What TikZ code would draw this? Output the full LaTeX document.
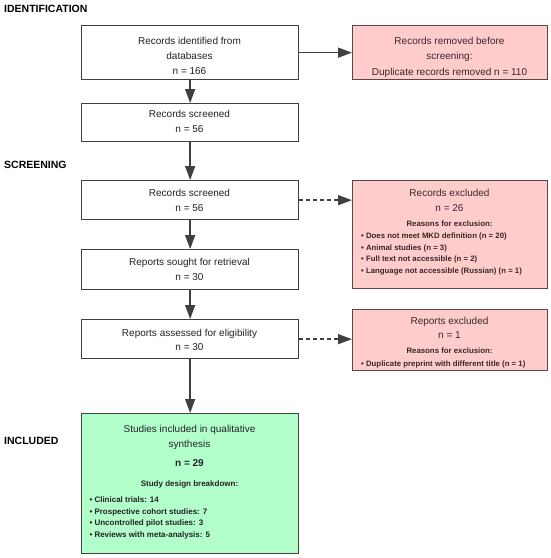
\documentclass[tikz,border=0pt]{standalone}
\usepackage{fontspec}
\setmainfont{Liberation Sans}
\usetikzlibrary{arrows.meta}
\definecolor{edgegray}{HTML}{404040}
\definecolor{pinkfill}{HTML}{FFCCCC}
\definecolor{pinkedge}{HTML}{5A4646}
\definecolor{greenfill}{HTML}{B3FFCC}
\definecolor{txtcol}{HTML}{222222}
\definecolor{redtxt}{HTML}{3A2626}
\begin{document}
\begin{tikzpicture}[x=1pt,y=-1pt,
  mainbox/.style={draw=edgegray, line width=1.3pt, fill=white, minimum width=217pt, inner sep=0pt, anchor=north west},
  pinkbox/.style={draw=pinkedge, line width=1.3pt, fill=pinkfill, minimum width=195pt, inner sep=0pt, anchor=north west},
  greenbox/.style={draw=edgegray, line width=1.3pt, fill=greenfill, minimum width=217pt, inner sep=0pt, anchor=north west},
  maintxt/.style={inner sep=0pt, anchor=base, text=txtcol, font=\fontsize{10}{12}\selectfont},
  redtitle/.style={inner sep=0pt, anchor=base, text=redtxt, font=\fontsize{10}{12}\selectfont},
  redsmall/.style={inner sep=0pt, text=redtxt, font=\fontsize{7.8}{9}\selectfont\bfseries},
  greensmall/.style={inner sep=0pt, text=txtcol, font=\fontsize{8}{10}\selectfont\bfseries},
  header/.style={inner sep=0pt, anchor=base west, text=black, font=\fontsize{10.5}{12}\selectfont\bfseries},
  arr/.style={draw=edgegray, line width=1.5pt, -{Triangle[length=14pt,width=10pt]}},
  dasharr/.style={arr, dash pattern=on 4pt off 3pt}
]
\useasboundingbox (0,0) rectangle (550,558);

% headers
\node[header] (hid) at (4,12.8) {IDENTIFICATION};
\node[header] (hsc) at (4,168.8) {SCREENING};
\node[header] (hin) at (4,444.8) {INCLUDED};

% main boxes
\node[mainbox, minimum height=54pt] (b1) at (81,25) {};
\node[mainbox, minimum height=38pt] (b2) at (81,103) {};
\node[mainbox, minimum height=39pt] (b3) at (81,180) {};
\node[mainbox, minimum height=40pt] (b4) at (81,249) {};
\node[mainbox, minimum height=39pt] (b5) at (81,319) {};
\node[greenbox, minimum height=140pt] (b6) at (81,413) {};

% side boxes
\node[pinkbox, minimum height=54pt] (r1) at (352,25) {};
\node[pinkbox, minimum height=108pt] (r2) at (352,180) {};
\node[pinkbox, minimum height=61pt] (r3) at (352,309) {};

% arrows
\draw[arr] (b1.south) -- (b2.north);
\draw[arr] (b2.south) -- (b3.north);
\draw[arr] (b3.south) -- (b4.north);
\draw[arr] (b4.south) -- (b5.north);
\draw[arr] (b5.south) -- (b6.north);
\draw[arr] (b1.east) -- (r1.west);
\draw[dasharr] (b3.east) -- (b3.east -| r2.west);
\draw[dasharr] (b5.east) -- (b5.east -| r3.west);

% main box texts
\node[maintxt] (b1a) at (189.5,44.6) {Records identified from};
\node[maintxt] (b1b) at (189.5,59.6) {databases};
\node[maintxt] (b1c) at (189.5,74.6) {n = 166};
\node[maintxt] (b2a) at (189.5,117.6) {Records screened};
\node[maintxt] (b2b) at (189.5,132.6) {n = 56};
\node[maintxt] (b3a) at (189.5,196.3) {Records screened};
\node[maintxt] (b3b) at (189.5,211.3) {n = 56};
\node[maintxt] (b4a) at (189.5,265.3) {Reports sought for retrieval};
\node[maintxt] (b4b) at (189.5,280.9) {n = 30};
\node[maintxt] (b5a) at (189.5,336) {Reports assessed for eligibility};
\node[maintxt] (b5b) at (189.5,350.3) {n = 30};

% green box texts
\node[maintxt] (b6a) at (189.5,432.9) {Studies included in qualitative};
\node[maintxt] (b6b) at (189.5,447.9) {synthesis};
\node[maintxt, font=\fontsize{10}{12}\selectfont\bfseries] (b6c) at (189.5,466.9) {n = 29};
\node[greensmall, anchor=base] (b6d) at (189.5,486.9) {Study design breakdown:};
\node[greensmall, anchor=base west] (b6e) at (89.3,502.2) {• Clinical trials: 14};
\node[greensmall, anchor=base west] (b6f) at (89.3,514.6) {• Prospective cohort studies: 7};
\node[greensmall, anchor=base west] (b6g) at (89.3,525.8) {• Uncontrolled pilot studies: 3};
\node[greensmall, anchor=base west] (b6h) at (89.3,537.2) {• Reviews with meta-analysis: 5};

% side box texts
\node[redtitle] (r1a) at (449.5,44.6) {Records removed before};
\node[redtitle] (r1b) at (449.5,59.6) {screening:};
\node[redtitle] (r1c) at (449.5,75) {Duplicate records removed n = 110};

\node[redtitle] (r2a) at (449.5,196.6) {Records excluded};
\node[redtitle] (r2b) at (449.5,211.6) {n = 26};
\node[redsmall, anchor=base] (r2c) at (449.5,226.7) {Reasons for exclusion:};
\node[redsmall, anchor=base west] (r2d) at (361,238) {• Does not meet MKD definition (n = 20)};
\node[redsmall, anchor=base west] (r2e) at (361,250.4) {• Animal studies (n = 3)};
\node[redsmall, anchor=base west] (r2f) at (361,261.7) {• Full text not accessible (n = 2)};
\node[redsmall, anchor=base west] (r2g) at (361,273) {• Language not accessible (Russian) (n = 1)};

\node[redtitle] (r3a) at (449.5,324.3) {Reports excluded};
\node[redtitle] (r3b) at (449.5,338.6) {n = 1};
\node[redsmall, anchor=base] (r3c) at (449.5,353.4) {Reasons for exclusion:};
\node[redsmall, anchor=base west] (r3d) at (361,366) {• Duplicate preprint with different title (n = 1)};
\end{tikzpicture}
\end{document}
